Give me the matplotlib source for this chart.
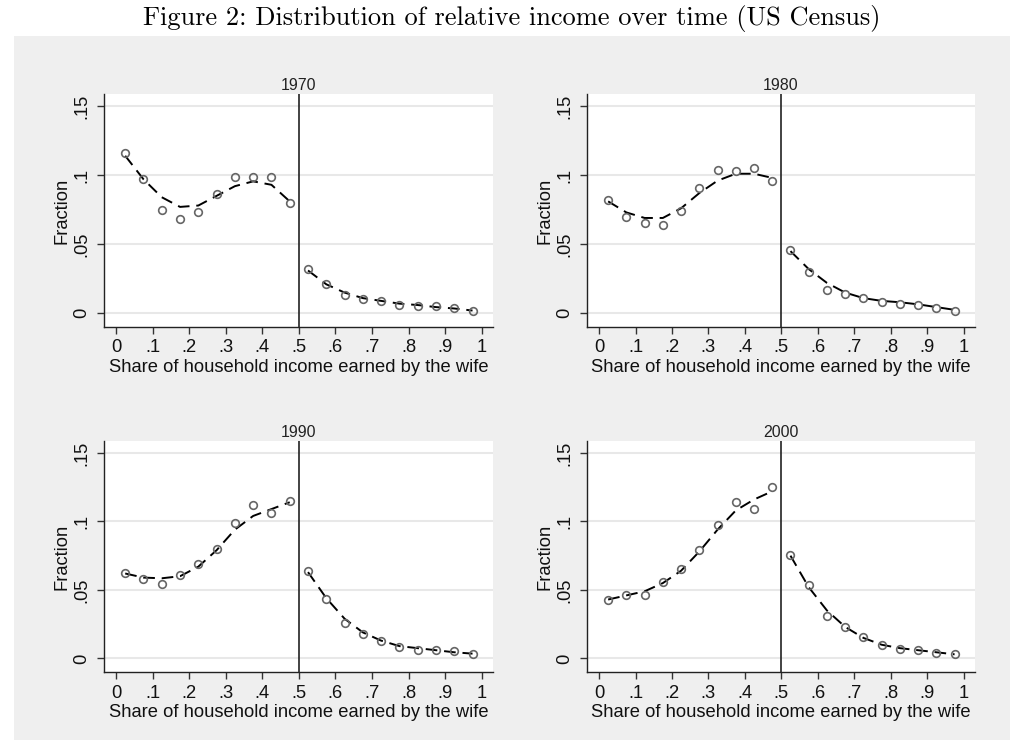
import matplotlib
matplotlib.use("Agg")
import matplotlib.pyplot as plt

plt.rcParams['font.family'] = ['Liberation Sans', 'DejaVu Sans']

bins = [0.025, 0.075, 0.125, 0.175, 0.225, 0.275, 0.325, 0.375, 0.425, 0.475,
        0.525, 0.575, 0.625, 0.675, 0.725, 0.775, 0.825, 0.875, 0.925, 0.975]

years = ["1970", "1980", "1990", "2000"]

frac_1970 = [0.116, 0.097, 0.075, 0.068, 0.073, 0.086, 0.099, 0.099, 0.099, 0.080,
             0.032, 0.021, 0.013, 0.010, 0.009, 0.006, 0.005, 0.005, 0.0036, 0.002]
fit_1970 = [0.114, 0.097, 0.084, 0.077, 0.078, 0.085, 0.092, 0.0955, 0.093, 0.081,
            0.031, 0.021, 0.015, 0.011, 0.009, 0.007, 0.006, 0.0045, 0.0035, 0.002]

frac_1980 = [0.082, 0.070, 0.065, 0.064, 0.074, 0.091, 0.104, 0.103, 0.105, 0.096,
             0.046, 0.030, 0.017, 0.014, 0.011, 0.0085, 0.007, 0.006, 0.004, 0.002]
fit_1980 = [0.081, 0.073, 0.069, 0.069, 0.076, 0.087, 0.096, 0.101, 0.101, 0.098,
            0.045, 0.032, 0.022, 0.015, 0.011, 0.009, 0.008, 0.0065, 0.0045, 0.0025]

frac_1990 = [0.0625, 0.058, 0.054, 0.061, 0.069, 0.080, 0.099, 0.112, 0.106, 0.115,
             0.064, 0.0435, 0.0255, 0.018, 0.013, 0.0087, 0.0063, 0.006, 0.0055, 0.003]
fit_1990 = [0.062, 0.059, 0.0585, 0.060, 0.067, 0.079, 0.094, 0.104, 0.109, 0.114,
            0.063, 0.044, 0.029, 0.019, 0.013, 0.009, 0.0075, 0.006, 0.0045, 0.0035]

frac_2000 = [0.043, 0.0466, 0.0466, 0.0555, 0.065, 0.079, 0.0976, 0.114, 0.109, 0.125,
             0.0755, 0.0536, 0.031, 0.0226, 0.0156, 0.010, 0.0072, 0.006, 0.0043, 0.003]
fit_2000 = [0.043, 0.046, 0.049, 0.055, 0.064, 0.078, 0.094, 0.108, 0.116, 0.122,
            0.075, 0.052, 0.035, 0.023, 0.015, 0.010, 0.0075, 0.006, 0.0045, 0.003]

fracs = [frac_1970, frac_1980, frac_1990, frac_2000]
fits = [fit_1970, fit_1980, fit_1990, fit_2000]

xticks = [0, 0.1, 0.2, 0.3, 0.4, 0.5, 0.6, 0.7, 0.8, 0.9, 1.0]
xticklabels = ["0", ".1", ".2", ".3", ".4", ".5", ".6", ".7", ".8", ".9", "1"]
yticks = [0, 0.05, 0.10, 0.15]
yticklabels = ["0", ".05", ".1", ".15"]

W, H = 1023, 740
fig = plt.figure(figsize=(W / 100, H / 100), dpi=100)
fig.patch.set_facecolor("white")

# gray graph region
bg = fig.add_axes([14 / W, 0, (1010 - 14) / W, (740 - 36) / H])
bg.set_facecolor("#efefef")
bg.set_xticks([]); bg.set_yticks([])
for s in bg.spines.values():
    s.set_visible(False)
bg.set_zorder(-10)

fig.text(512 / W, 1 - 19 / H, "Figure 2: Distribution of relative income over time (US Census)",
         family="cmr10", fontsize=19, ha="center", va="center", color="black")

panels = [(104, 493, 94, 327), (587, 975, 94, 327),
          (104, 493, 441, 672), (587, 975, 441, 672)]

for i, (l, r, t, b) in enumerate(panels):
    ax = fig.add_axes([l / W, 1 - b / H, (r - l) / W, (b - t) / H])
    ax.set_facecolor("white")
    half = 10
    for seg in (slice(0, half), slice(half, 20)):
        ax.plot(bins[seg], fits[i][seg], color="black", lw=1.4, ls=(0, (6, 3.5)), zorder=3)
        ax.plot(bins[seg], fracs[i][seg], ls="none", marker="o", ms=5.5,
                mfc="none", mec="#666666", mew=1.2, zorder=4)
    ax.axvline(0.5, color="#222222", lw=1.2, zorder=2)
    ax.set_xlim(-0.033, 1.031)
    ax.set_ylim(-0.0099, 0.1587)
    for yv in yticks:
        ax.axhline(yv, color="#e8e8e8", lw=1.5, zorder=1)
    ax.set_xticks(xticks)
    ax.set_xticklabels(xticklabels, fontsize=13.2)
    ax.set_yticks(yticks)
    ax.set_yticklabels(yticklabels, fontsize=13.2, rotation=90, va="center")
    ax.tick_params(axis="both", direction="out", length=5, width=1, color="#333333", labelcolor="#111111")
    ax.tick_params(axis="x", pad=4)
    ax.tick_params(axis="y", pad=5)
    for s in ("top", "right"):
        ax.spines[s].set_visible(False)
    for s in ("left", "bottom"):
        ax.spines[s].set_color("#222222")
        ax.spines[s].set_linewidth(1.0)
    ax.set_xlabel("Share of household income earned by the wife", fontsize=13.2, labelpad=1.5, color="#111111")
    ax.set_ylabel("Fraction", fontsize=13.2, labelpad=2, color="#111111")
    ax.set_title(years[i], fontsize=11.5, pad=3, color="#222222")

fig.savefig("out.png", dpi=100, facecolor=fig.get_facecolor())
